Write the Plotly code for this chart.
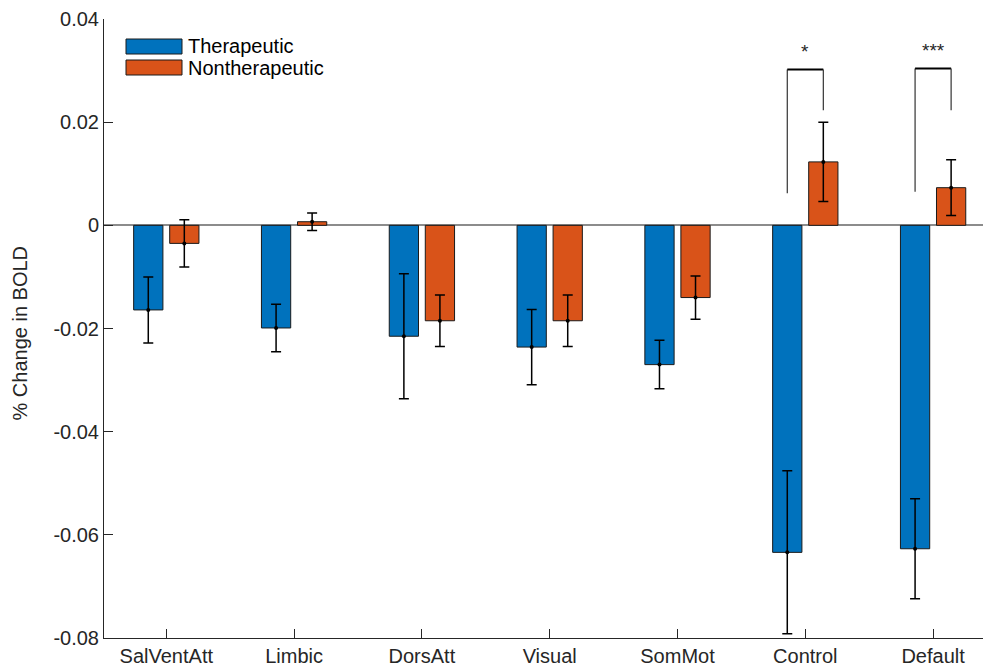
import plotly.graph_objects as go

categories = ["SalVentAtt", "Limbic", "DorsAtt", "Visual", "SomMot", "Control", "Default"]
ther_mean = [-0.0164, -0.0199, -0.0215, -0.0236, -0.0270, -0.0634, -0.0627]
ther_err = [0.0064, 0.0046, 0.0121, 0.0073, 0.0047, 0.0158, 0.0097]
nonther_mean = [-0.0035, 0.0007, -0.0185, -0.0185, -0.0140, 0.0123, 0.0073]
nonther_err = [0.0046, 0.0017, 0.0050, 0.0050, 0.0042, 0.0077, 0.0054]
series_names = ["Therapeutic", "Nontherapeutic"]
ytick_vals = [-0.08, -0.06, -0.04, -0.02, 0, 0.02, 0.04]
ytick_text = ["-0.08", "-0.06", "-0.04", "-0.02", "0", "0.02", "0.04"]

# significance brackets: category index, left-foot, top, right-foot, label
sig_cats = [5, 6]
sig_left_foot = [0.0062, 0.0065]
sig_top = [0.0302, 0.0304]
sig_right_foot = [0.0223, 0.0223]
sig_labels = ["*", "***"]

BLUE = "#0072BD"
ORANGE = "#D95319"
AX = "#262626"
FONT = "Liberation Sans, Arial, Helvetica, sans-serif"

W, H = 983, 669
L, R, T, B = 104, 0, 19, 31
pw = W - L - R
ph = H - T - B

bargap = 0.436
bargroupgap = 0.188
half = (1 - bargap) / 4  # offset of each bar centre from category centre

fig = go.Figure()
for name, mean, err, col in [(series_names[0], ther_mean, ther_err, BLUE),
                             (series_names[1], nonther_mean, nonther_err, ORANGE)]:
    fig.add_trace(go.Bar(
        x=categories, y=mean, name=name, offsetgroup=name,
        marker=dict(color=col, line=dict(color="#1a1a1a", width=1)),
        error_y=dict(type="data", array=err, visible=True, color="black",
                     thickness=1.5, width=5),
        showlegend=False,
    ))
for name, mean in [(series_names[0], ther_mean), (series_names[1], nonther_mean)]:
    fig.add_trace(go.Scatter(
        x=categories, y=mean, mode="markers", offsetgroup=name,
        marker=dict(color="black", size=4), showlegend=False, hoverinfo="skip",
    ))

shapes = []
annotations = []
for c, lf, tp, rf, lab in zip(sig_cats, sig_left_foot, sig_top, sig_right_foot, sig_labels):
    xl, xr = c - half, c + half
    shapes.append(dict(type="line", xref="x", yref="y", x0=xl, x1=xl, y0=lf, y1=tp,
                       line=dict(color="#333333", width=1.2)))
    shapes.append(dict(type="line", xref="x", yref="y", x0=xl, x1=xr, y0=tp, y1=tp,
                       line=dict(color="black", width=2)))
    shapes.append(dict(type="line", xref="x", yref="y", x0=xr, x1=xr, y0=tp, y1=rf,
                       line=dict(color="#333333", width=1.2)))
    annotations.append(dict(x=c, y=tp, xref="x", yref="y", text=lab, showarrow=False,
                            yanchor="bottom", yshift=6, font=dict(size=19, color=AX, family=FONT)))

# custom legend (paper coords from pixel positions)
def px(x):
    return (x - L) / pw

def py(y):
    return (H - B - y) / ph

for i, (name, col) in enumerate(zip(series_names, [BLUE, ORANGE])):
    y0 = 39 + 21 * i
    shapes.append(dict(type="rect", xref="paper", yref="paper",
                       x0=px(126), x1=px(182), y0=py(y0 + 15), y1=py(y0),
                       fillcolor=col, line=dict(color="#1a1a1a", width=1)))
    annotations.append(dict(x=px(186), y=py(y0 + 7.5), xref="paper", yref="paper",
                            text=name, showarrow=False, xanchor="left", yanchor="middle",
                            font=dict(size=20, color="black", family=FONT)))

annotations.append(dict(x=0, y=0.5, xref="paper", yref="paper", text="% Change in BOLD",
                        textangle=-90, showarrow=False, xanchor="center", yanchor="middle",
                        xshift=-85, yshift=-5, font=dict(size=20, color=AX, family=FONT)))

fig.update_layout(
    width=W, height=H,
    margin=dict(l=L, r=R, t=T, b=B, autoexpand=False),
    plot_bgcolor="white", paper_bgcolor="white",
    barmode="group", bargap=bargap, bargroupgap=bargroupgap,
    scattermode="group", scattergap=bargap,
    font=dict(family=FONT, size=20, color=AX),
    shapes=shapes, annotations=annotations,
    showlegend=False,
)
fig.update_xaxes(
    range=[-0.4875, -0.4875 + pw / 127.8], showgrid=False, zeroline=False,
    showline=True, linecolor=AX, linewidth=1,
    ticks="inside", ticklen=9, tickcolor=AX, tickfont=dict(size=20, color=AX),
)
fig.update_yaxes(
    range=[-0.08, 0.04], tickvals=ytick_vals, ticktext=ytick_text,
    showgrid=False, zeroline=True, zerolinecolor="#8c8c8c", zerolinewidth=1.5,
    showline=True, linecolor=AX, linewidth=1,
    ticks="inside", ticklen=9, tickcolor=AX, tickfont=dict(size=20, color=AX),
)

fig.write_html("out.html", config={"displayModeBar": False},
               post_script="document.body.style.margin='0px';document.body.style.overflow='hidden';")
